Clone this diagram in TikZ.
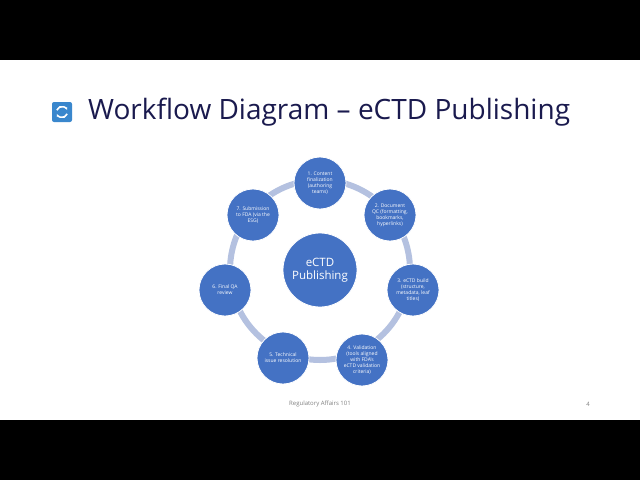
\documentclass[tikz,border=0pt]{standalone}
\usepackage{fontspec}
\setmainfont{Open Sans}
\usetikzlibrary{arrows.meta}
\definecolor{nodeblue}{HTML}{4472C4}
\definecolor{ringc}{HTML}{B4C1E0}
\definecolor{titlec}{HTML}{1A1A4E}
\begin{document}
\begin{tikzpicture}[x=1pt,y=-1pt,
  stepnode/.style={circle,fill=nodeblue,draw=white,line width=0.8pt,minimum size=52pt,inner sep=0pt,text=white,font=\fontsize{5}{6}\selectfont,align=center},
  hub/.style={circle,fill=nodeblue,draw=white,line width=0.8pt,minimum size=74pt,text=white,font=\fontsize{11.5}{13.5}\selectfont,align=center}]
\fill[black] (0,0) rectangle (640,480);
\fill[white] (0,60) rectangle (640,420);
\draw[ringc,line width=6pt] (320,270) circle (90);
\node[hub] (c) at (320,270) {eCTD\\Publishing};
\node[stepnode] (n1) at (320,183) {1. Content\\finalization\\(authoring\\teams)};
\node[stepnode] (n2) at (390,215) {2. Document\\QC (formatting,\\bookmarks,\\hyperlinks)};
\node[stepnode] (n3) at (413,290) {3. eCTD build\\(structure,\\metadata, leaf\\titles)};
\node[stepnode] (n4) at (362,360) {4. Validation\\(tools aligned\\with FDA's\\eCTD validation\\criteria)};
\node[stepnode] (n5) at (283,358) {5. Technical\\issue resolution};
\node[stepnode] (n6) at (225,290) {6. Final QA\\review};
\node[stepnode] (n7) at (253,215) {7. Submission\\to FDA (via the\\ESG)};
% icon
\node[fill=nodeblue!85!cyan,rounded corners=2pt,minimum size=20pt,inner sep=0pt] (ic) at (62,112) {};
\draw[white,line width=1.6pt,-{Stealth[length=3pt]}] ([shift={(200:5.5)}]ic.center) arc[start angle=200,end angle=340,radius=5.5];
\draw[white,line width=1.6pt,-{Stealth[length=3pt]}] ([shift={(20:5.5)}]ic.center) arc[start angle=20,end angle=160,radius=5.5];
\node[anchor=west,text=titlec,font=\fontsize{28}{32}\selectfont,inner sep=0pt] (t) at (88,112) {Workflow Diagram – eCTD Publishing};
\node[text=gray,font=\fontsize{6}{7}\selectfont] (f) at (320,404) {Regulatory Affairs 101};
\node[text=gray,font=\fontsize{6}{7}\selectfont] (p) at (588,404) {4};
\end{tikzpicture}
\end{document}
